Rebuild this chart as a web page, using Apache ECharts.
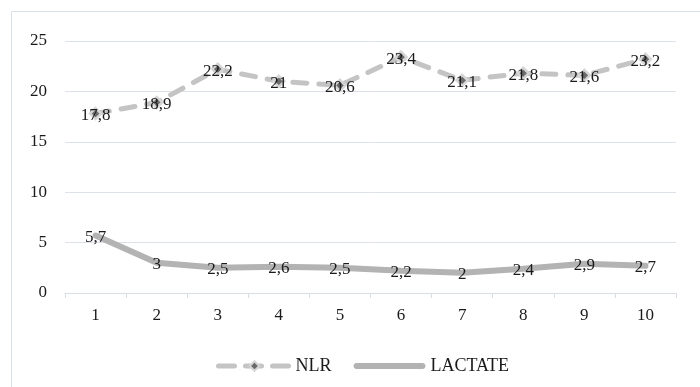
<!DOCTYPE html>
<html><head><meta charset="utf-8">
<script src="https://cdn.jsdelivr.net/npm/echarts@6/dist/echarts.min.js"></script>
<style>html,body{margin:0;padding:0;background:#fff}#c{width:700px;height:387px}</style>
</head><body><div id="c"></div>
<script>
const categories = ['1','2','3','4','5','6','7','8','9','10'];
const nlr = [17.8, 18.9, 22.2, 21, 20.6, 23.4, 21.1, 21.8, 21.6, 23.2];
const lactate = [5.7, 3, 2.5, 2.6, 2.5, 2.2, 2, 2.4, 2.9, 2.7];
const yTicks = [0, 5, 10, 15, 20, 25];

const font = 'Liberation Serif';
const fmt = p => String(p.value).replace('.', ',');
const chart = echarts.init(document.getElementById('c'));
chart.setOption({
  animation: false,
  textStyle: { fontFamily: font },
  graphic: [{ type: 'rect', shape: { x: 11.5, y: 11.5, width: 720, height: 420 },
    style: { fill: 'none', stroke: '#d9e0e8', lineWidth: 1 }, silent: true }],
  grid: { left: 65, right: 24, top: 41, bottom: 94 },
  legend: {
    left: 211, top: 352, itemGap: 22, itemWidth: 72, itemHeight: 12,
    textStyle: { fontFamily: font, fontSize: 18, color: '#1a1a1a' },
    data: [
      { name: 'NLR', lineStyle: { width: 5, type: [16, 11], cap: 'round', color: '#c4c4c4' } },
      { name: 'LACTATE', icon: 'path://M0,0M0,12M3,3H69C73,3,73,9,69,9H3C-1,9,-1,3,3,3Z' }
    ]
  },
  xAxis: {
    type: 'category', data: categories, boundaryGap: true,
    axisLine: { lineStyle: { color: '#d9dee6', width: 1 } },
    axisTick: { show: true, length: 5, lineStyle: { color: '#d9dee6' } },
    axisLabel: { color: '#1a1a1a', fontSize: 17, fontFamily: font, margin: 14 }
  },
  yAxis: {
    type: 'value', min: yTicks[0], max: yTicks[yTicks.length - 1], interval: 5,
    axisLine: { show: false }, axisTick: { show: false },
    splitLine: { lineStyle: { color: '#dde2ea', width: 1 } },
    axisLabel: { color: '#1a1a1a', fontSize: 17, fontFamily: font, margin: 18 }
  },
  series: [
    {
      name: 'NLR', type: 'line', data: nlr,
      symbol: 'diamond', symbolSize: 11,
      itemStyle: { color: '#6b6b6b', borderColor: '#d6d6d6', borderWidth: 2.5 },
      lineStyle: { color: '#c4c4c4', width: 5, type: [14, 12], cap: 'round' },
      label: { show: true, position: 'inside', formatter: fmt,
        color: '#1a1a1a', fontSize: 17, fontFamily: font, offset: [0, 2] }
    },
    {
      name: 'LACTATE', type: 'line', data: lactate,
      symbol: 'circle', symbolSize: 4,
      itemStyle: { color: '#b3b3b3' },
      lineStyle: { color: '#b3b3b3', width: 6, cap: 'round' },
      label: { show: true, position: 'inside', formatter: fmt,
        color: '#1a1a1a', fontSize: 17, fontFamily: font, offset: [0, 2] }
    }
  ]
});
</script></body></html>
